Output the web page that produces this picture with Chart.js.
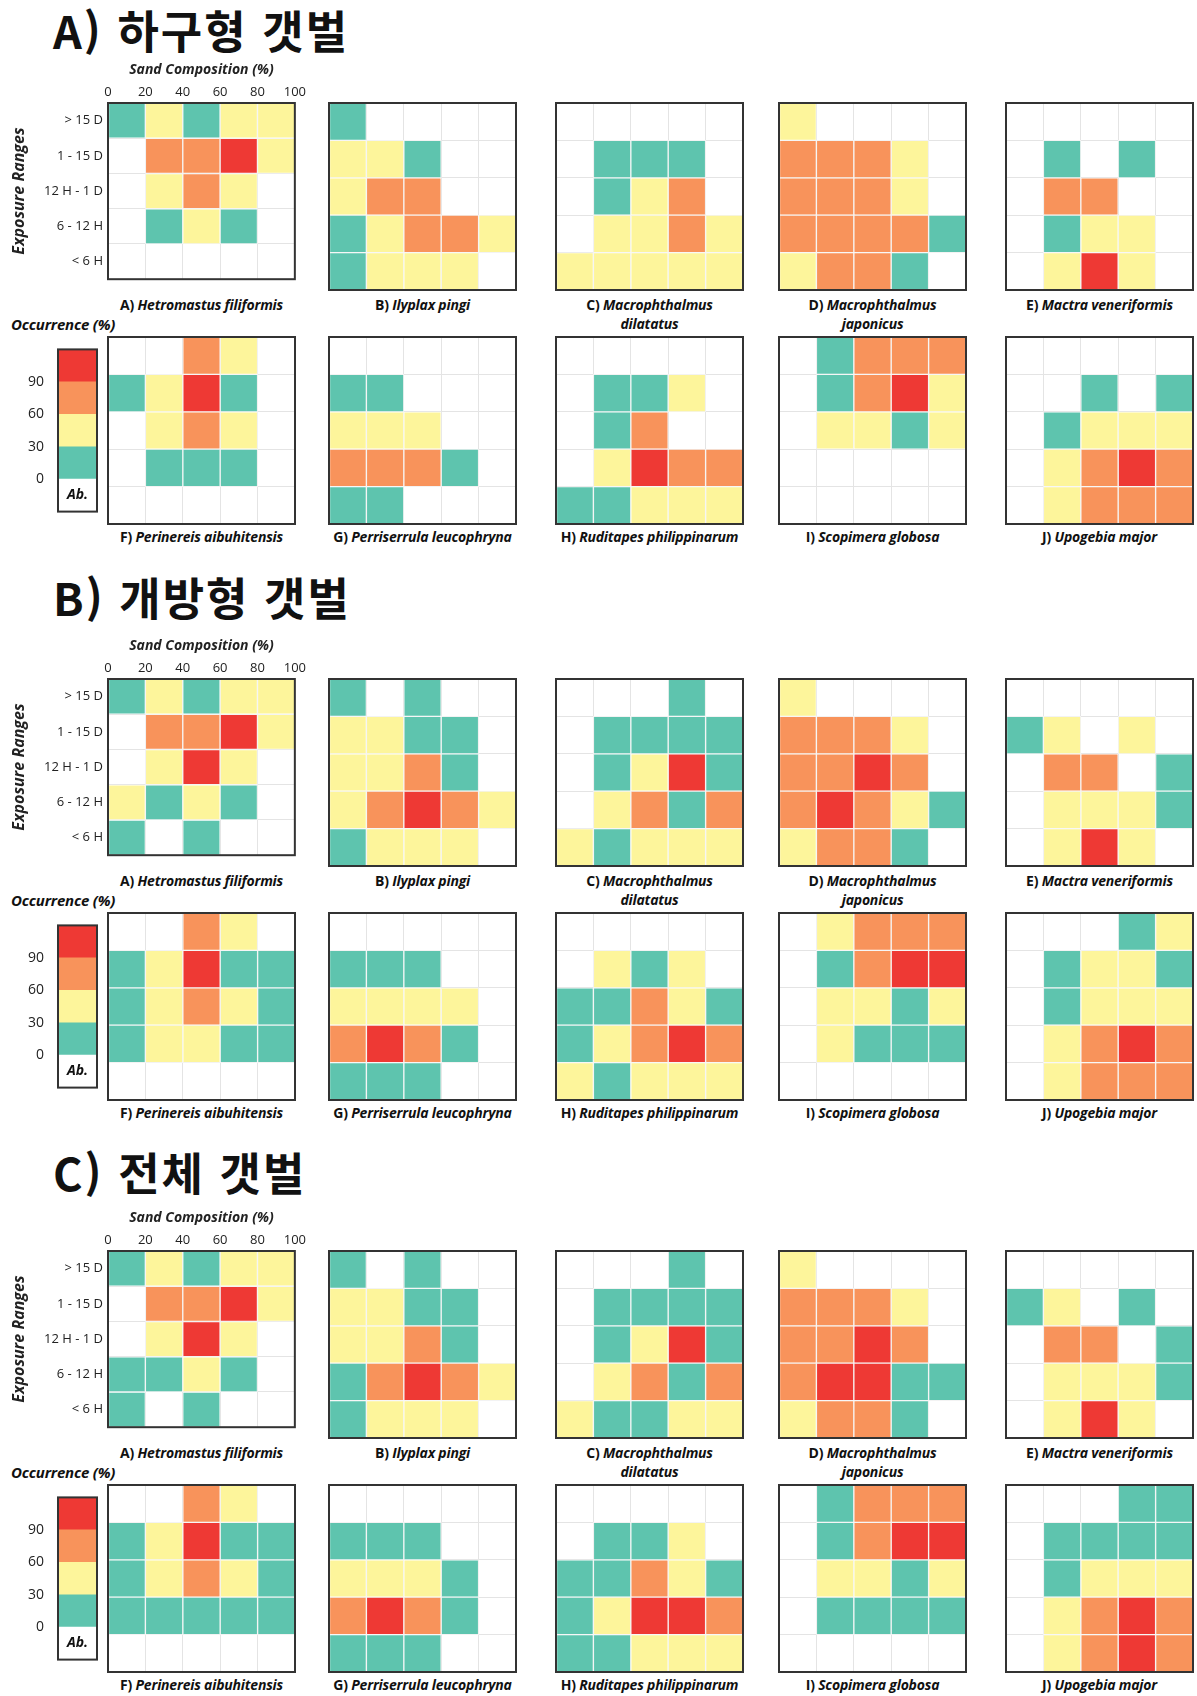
<!DOCTYPE html>
<html lang="ko">
<head>
<meta charset="utf-8">
<script src="https://cdn.jsdelivr.net/npm/chart.js@4.4.1/dist/chart.umd.min.js"></script>
<style>
  body { margin: 0; background: #fff; }
  #page { position: relative; width: 1197px; height: 1696px; overflow: hidden; font-family: 'Open Sans', sans-serif; color: #111; }
  canvas { position: absolute; }
  .title { position: absolute; left: 53px; font-family: 'Noto Sans CJK KR', sans-serif; font-weight: 700; font-size: 45px; letter-spacing: 2px; line-height: 1; color: #111; white-space: nowrap; }
  .label { position: absolute; width: 260px; font-size: 14px; font-weight: 700; text-align: center; line-height: 19px; white-space: nowrap; letter-spacing: -0.2px; }
  .occ { position: absolute; left: 11px; font-size: 15px; font-weight: 700; font-style: italic; line-height: 18px; letter-spacing: -0.2px; }
</style>
</head>
<body>
<div id="page"></div>
<script>
// ---- axes and categories ----
const sandTicks = [0, 20, 40, 60, 80, 100];
const exposureRanges = ['> 15 D', '1 - 15 D', '12 H - 1 D', '6 - 12 H', '< 6 H'];
const occurrenceTicks = ['0', '30', '60', '90'];
const occurrenceClasses = ['Ab.', '0 - 30', '30 - 60', '60 - 90', '> 90'];
const classColors = ['#ffffff', '#5ec4ae', '#fdf59b', '#f8935b', '#ee3934'];

const sectionTitles = ['A) 하구형 갯벌', 'B) 개방형 갯벌', 'C) 전체 갯벌'];
const speciesLetters = ['A', 'B', 'C', 'D', 'E', 'F', 'G', 'H', 'I', 'J'];
const speciesNames = [
    'Hetromastus filiformis', 'Ilyplax pingi', 'Macrophthalmus<br>dilatatus',
    'Macrophthalmus<br>japonicus', 'Mactra veneriformis', 'Perinereis aibuhitensis',
    'Perriserrula leucophryna', 'Ruditapes philippinarum', 'Scopimera globosa', 'Upogebia major'
];

// Occurrence class per cell: 0 absent, 1 <30 %, 2 30-60 %, 3 60-90 %, 4 >90 %
// rows follow exposureRanges (top to bottom), columns follow the sand bins
const estuarine = [
    [[1,2,1,2,2],[0,3,3,4,2],[0,2,3,2,0],[0,1,2,1,0],[0,0,0,0,0]], // Hetromastus
    [[1,0,0,0,0],[2,2,1,0,0],[2,3,3,0,0],[1,2,3,3,2],[1,2,2,2,0]], // Ilyplax
    [[0,0,0,0,0],[0,1,1,1,0],[0,1,2,3,0],[0,2,2,3,2],[2,2,2,2,2]], // M. dilatatus
    [[2,0,0,0,0],[3,3,3,2,0],[3,3,3,2,0],[3,3,3,3,1],[2,3,3,1,0]], // M. japonicus
    [[0,0,0,0,0],[0,1,0,1,0],[0,3,3,0,0],[0,1,2,2,0],[0,2,4,2,0]], // Mactra
    [[0,0,3,2,0],[1,2,4,1,0],[0,2,3,2,0],[0,1,1,1,0],[0,0,0,0,0]], // Perinereis
    [[0,0,0,0,0],[1,1,0,0,0],[2,2,2,0,0],[3,3,3,1,0],[1,1,0,0,0]], // Perriserrula
    [[0,0,0,0,0],[0,1,1,2,0],[0,1,3,0,0],[0,2,4,3,3],[1,1,2,2,2]], // Ruditapes
    [[0,1,3,3,3],[0,1,3,4,2],[0,2,2,1,2],[0,0,0,0,0],[0,0,0,0,0]], // Scopimera
    [[0,0,0,0,0],[0,0,1,0,1],[0,1,2,2,2],[0,2,3,4,3],[0,2,3,3,3]]  // Upogebia
];
const openFlat = [
    [[1,2,1,2,2],[0,3,3,4,2],[0,2,4,2,0],[2,1,2,1,0],[1,0,1,0,0]],
    [[1,0,1,0,0],[2,2,1,1,0],[2,2,3,1,0],[2,3,4,3,2],[1,2,2,2,0]],
    [[0,0,0,1,0],[0,1,1,1,1],[0,1,2,4,1],[0,2,3,1,3],[2,1,2,2,2]],
    [[2,0,0,0,0],[3,3,3,2,0],[3,3,4,3,0],[3,4,3,2,1],[2,3,3,1,0]],
    [[0,0,0,0,0],[1,2,0,2,0],[0,3,3,0,1],[0,2,2,2,1],[0,2,4,2,0]],
    [[0,0,3,2,0],[1,2,4,1,1],[1,2,3,2,1],[1,2,2,1,1],[0,0,0,0,0]],
    [[0,0,0,0,0],[1,1,1,0,0],[2,2,2,2,0],[3,4,3,1,0],[1,1,1,0,0]],
    [[0,0,0,0,0],[0,2,1,2,0],[1,1,3,2,1],[1,2,3,4,3],[2,1,2,2,2]],
    [[0,2,3,3,3],[0,1,3,4,4],[0,2,2,1,2],[0,2,1,1,1],[0,0,0,0,0]],
    [[0,0,0,1,2],[0,1,2,2,1],[0,1,2,2,2],[0,2,3,4,3],[0,2,3,3,3]]
];
const allFlats = [
    [[1,2,1,2,2],[0,3,3,4,2],[0,2,4,2,0],[1,1,2,1,0],[1,0,1,0,0]],
    [[1,0,1,0,0],[2,2,1,1,0],[2,2,3,1,0],[1,3,4,3,2],[1,2,2,2,0]],
    [[0,0,0,1,0],[0,1,1,1,1],[0,1,2,4,1],[0,2,3,1,3],[2,1,1,2,2]],
    [[2,0,0,0,0],[3,3,3,2,0],[3,3,4,3,0],[3,4,4,1,1],[2,3,3,1,0]],
    [[0,0,0,0,0],[1,2,0,1,0],[0,3,3,0,1],[0,2,2,2,1],[0,2,4,2,0]],
    [[0,0,3,2,0],[1,2,4,1,1],[1,2,3,2,1],[1,1,1,1,1],[0,0,0,0,0]],
    [[0,0,0,0,0],[1,1,1,0,0],[2,2,2,1,0],[3,4,3,1,0],[1,1,1,0,0]],
    [[0,0,0,0,0],[0,1,1,2,0],[1,1,3,2,1],[1,2,4,4,3],[1,1,2,2,2]],
    [[0,1,3,3,3],[0,1,3,4,4],[0,2,2,1,2],[0,1,1,1,1],[0,0,0,0,0]],
    [[0,0,0,1,1],[0,1,1,1,1],[0,1,2,2,2],[0,2,3,4,3],[0,2,3,4,3]]
];
const sections = [estuarine, openFlat, allFlats];

// ---- layout ----
const PANEL = 187;
const PAD = 2;
const panelX = [108, 329, 556, 779, 1006];
const sectionTop = [103, 679, 1251];
const titleTop = [7, 574, 1149];
const ROW_GAP = 234;
const AX_TOP = 46;
const LEGEND_X = 58;
const LEGEND_W = 39;

const page = document.getElementById('page');
const tickFont = { family: 'Open Sans', size: 13 };
const titleFont = { family: 'Open Sans', size: 14, weight: 'bold', style: 'italic' };

// dark frame round the plot area
const frame = {
    id: 'frame',
    afterDraw(chart) {
        const { ctx, chartArea: a } = chart;
        ctx.save();
        ctx.strokeStyle = '#333';
        ctx.lineWidth = 2;
        ctx.strokeRect(a.left, a.top, a.right - a.left, a.bottom - a.top);
        ctx.restore();
    }
};

function addCanvas(left, top, w, h) {
    const c = document.createElement('canvas');
    c.width = w; c.height = h;
    c.style.left = left + 'px'; c.style.top = top + 'px';
    c.style.width = w + 'px'; c.style.height = h + 'px';
    page.appendChild(c);
    return c;
}

function drawPanel(grid, x, y, withAxes) {
    const left = withAxes ? 0 : x - PAD;
    const top = withAxes ? y - AX_TOP - PAD : y - PAD;
    // the first panel's canvas runs a little past the frame so "100" is not clipped
    const extraRight = withAxes ? 12 : 0;
    const canvas = addCanvas(left, top, x - left + PANEL + PAD + extraRight, y - top + PANEL + PAD);

    new Chart(canvas, {
        type: 'bar',
        data: {
            labels: exposureRanges,
            datasets: sandTicks.slice(0, -1).map((lo, c) => ({
                data: grid.map(row => row[c] ? [lo, sandTicks[c + 1]] : null),
                backgroundColor: grid.map(row => classColors[row[c]]),
                borderColor: 'rgba(255,255,255,0.55)',
                borderWidth: 1,
                borderSkipped: false,
                grouped: false,
                barPercentage: 1,
                categoryPercentage: 1
            }))
        },
        options: {
            indexAxis: 'y',
            responsive: false,
            animation: false,
            events: [],
            layout: { padding: { left: PAD, top: PAD, bottom: PAD, right: PAD + extraRight } },
            plugins: { legend: { display: false }, tooltip: { enabled: false } },
            scales: {
                x: {
                    type: 'linear', position: 'top', min: 0, max: 100,
                    grid: { color: '#e4e4e4', drawTicks: false },
                    border: { display: false },
                    ticks: { display: withAxes, stepSize: 20, padding: 3, color: '#222', font: tickFont, maxRotation: 0 },
                    title: { display: withAxes, text: 'Sand Composition (%)', color: '#222', font: titleFont, padding: { top: 5, bottom: 0 } },
                    afterFit: s => { s.height = withAxes ? AX_TOP : 0; }
                },
                y: {
                    type: 'category', offset: true,
                    grid: { offset: true, color: '#e4e4e4', drawTicks: false },
                    border: { display: false },
                    ticks: { display: withAxes, padding: 5, color: '#222', font: tickFont },
                    title: { display: withAxes, text: 'Exposure Ranges', color: '#222', font: { ...titleFont, size: 16 }, padding: { top: 8, bottom: 0 } },
                    afterFit: s => { s.width = withAxes ? x - left - PAD : 0; }
                }
            }
        },
        plugins: [frame]
    });
}

// colour key for the occurrence classes
function drawLegend(y) {
    const canvas = addCanvas(0, y - PAD, LEGEND_X + LEGEND_W + PAD, PANEL + 2 * PAD);
    new Chart(canvas, {
        type: 'bar',
        data: {
            labels: ['occurrence'],
            datasets: occurrenceClasses.map((name, i) => ({
                label: name,
                data: [[i, i + 1]],
                backgroundColor: classColors[i],
                borderWidth: 0,
                grouped: false,
                barPercentage: 1,
                categoryPercentage: 1
            }))
        },
        options: {
            responsive: false,
            animation: false,
            events: [],
            layout: { padding: PAD },
            plugins: { legend: { display: false }, tooltip: { enabled: false } },
            scales: {
                x: { display: false, afterFit: s => { s.height = 0; } },
                y: {
                    min: 0, max: occurrenceClasses.length,
                    grid: { display: false },
                    border: { display: false },
                    afterBuildTicks: s => { s.ticks = occurrenceTicks.map((t, i) => ({ value: i + 1 })); },
                    ticks: { padding: 6, color: '#222', font: { family: 'Open Sans', size: 14 }, callback: (v) => occurrenceTicks[v - 1] },
                    afterFit: s => { s.width = LEGEND_X - PAD; }
                }
            }
        },
        plugins: [frame, {
            id: 'absentText',
            afterDatasetsDraw(chart) {
                const { ctx, scales } = chart;
                const cx = (chart.chartArea.left + chart.chartArea.right) / 2;
                ctx.save();
                ctx.fillStyle = '#111';
                ctx.font = 'italic bold 14px "Open Sans"';
                ctx.textAlign = 'center';
                ctx.textBaseline = 'middle';
                ctx.fillText(occurrenceClasses[0], cx, scales.y.getPixelForValue(0.5));
                ctx.restore();
            }
        }]
    });
}

function addLabel(html, cx, top) {
    const d = document.createElement('div');
    d.className = 'label';
    d.style.left = (cx - 130) + 'px';
    d.style.top = top + 'px';
    d.innerHTML = html;
    page.appendChild(d);
}

sections.forEach((grids, s) => {
    const t = document.createElement('div');
    t.className = 'title';
    t.style.top = titleTop[s] + 'px';
    t.textContent = sectionTitles[s];
    page.appendChild(t);

    const y1 = sectionTop[s];
    const y2 = y1 + ROW_GAP;
    grids.forEach((grid, i) => {
        const row = Math.floor(i / 5);
        const x = panelX[i % 5];
        const y = row ? y2 : y1;
        drawPanel(grid, x, y, i === 0);
        addLabel(`${speciesLetters[i]}) <i>${speciesNames[i]}</i>`, x + PANEL / 2, y + PANEL + (row ? 3 : 5));
    });

    const occ = document.createElement('div');
    occ.className = 'occ';
    occ.style.top = (y2 - 22) + 'px';
    occ.textContent = 'Occurrence (%)';
    page.appendChild(occ);
    drawLegend(y2);
});
</script>
</body>
</html>
